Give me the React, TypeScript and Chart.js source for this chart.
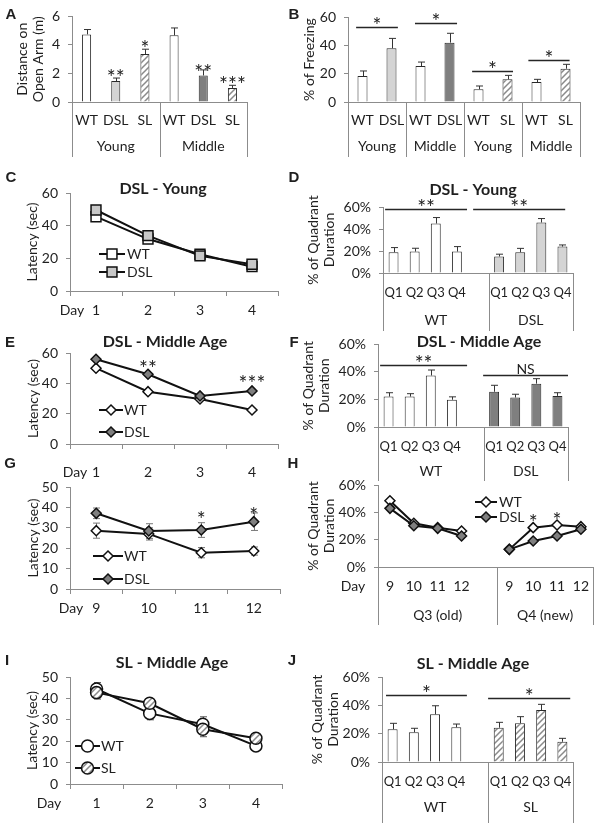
import React, { useEffect, useRef } from 'react';
import { Chart, registerables } from 'chart.js';

Chart.register(...registerables);

const FONT = 'Lato, "Open Sans", sans-serif';
const LETTER_FONT = '"Liberation Sans", Arial, sans-serif';
const INK = '#1f1f1f';
const AXIS = '#8c8c8c';
const WHITE = '#ffffff';
const LIGHT = '#d4d4d4';
const DARK = '#7f7f7f';

// ================= DATA =================
// A – distance on open arm (m)
const A_LABELS = ['WT', 'DSL', 'SL', 'WT', 'DSL', 'SL'];
const A_GROUPS = ['Young', 'Middle'];
const A_MEANS = [4.74, 1.47, 3.36, 4.67, 1.86, 0.99];
const A_SEM = [0.34, 0.21, 0.34, 0.52, 0.39, 0.18];
// B – % of freezing
const B_LABELS = ['WT', 'DSL', 'WT', 'DSL', 'WT', 'SL', 'WT', 'SL'];
const B_GROUPS = ['Young', 'Middle', 'Young', 'Middle'];
const B_MEANS = [18.3, 37.9, 25.4, 41.9, 9.0, 16.0, 14.1, 23.5];
const B_SEM = [3.6, 7.0, 2.8, 6.6, 2.3, 2.8, 1.9, 3.1];
// C – DSL young latency
const DAYS_1_4 = ['1', '2', '3', '4'];
const C_WT = [45.5, 31.8, 22.5, 14.9];
const C_DSL = [49.6, 33.9, 21.5, 16.4];
// D – DSL young quadrant
const Q_LABELS = ['Q1', 'Q2', 'Q3', 'Q4', '', 'Q1', 'Q2', 'Q3', 'Q4'];
const D_GROUPS = ['WT', 'DSL'];
const D_MEANS = [18.9, 19.5, 45.0, 19.5, null, 15.0, 18.9, 45.9, 24.0];
const D_SEM = [4.2, 3.0, 5.4, 4.5, null, 2.1, 3.5, 3.6, 1.5];
// E – DSL middle age latency
const E_WT = [50.0, 34.5, 29.7, 22.4];
const E_DSL = [55.9, 46.0, 31.7, 35.0];
// F – DSL middle age quadrant
const F_GROUPS = ['WT', 'DSL'];
const F_MEANS = [22.1, 22.1, 37.4, 19.8, null, 25.6, 21.4, 31.5, 22.6];
const F_SEM = [2.8, 2.1, 4.0, 2.1, null, 4.7, 2.4, 3.6, 2.3];
// G – reversal latency
const DAYS_9_12 = ['9', '10', '11', '12'];
const G_WT = [28.6, 27.0, 17.8, 18.6];
const G_WT_SEM = [3.7, 3.0, 2.5, 2.0];
const G_DSL = [37.1, 28.4, 28.9, 33.0];
const G_DSL_SEM = [2.6, 3.6, 3.6, 4.3];
// H – reversal quadrant
const H_LABELS = ['9', '10', '11', '12', '', '9', '10', '11', '12'];
const H_GROUPS = ['Q3 (old)', 'Q4 (new)'];
const H_WT = [48.5, 32.0, 28.8, 26.3, null, 12.9, 28.8, 30.7, 29.5];
const H_DSL = [42.9, 30.2, 28.3, 22.7, null, 12.9, 19.0, 22.7, 27.6];
// I – SL middle age latency
const I_WT = [44.4, 33.0, 27.9, 17.8];
const I_WT_SEM = [3.0, 3.0, 3.5, 1.5];
const I_SL = [42.7, 37.7, 25.6, 21.4];
const I_SL_SEM = [3.0, 2.0, 3.5, 1.5];
// J – SL middle age quadrant
const J_GROUPS = ['WT', 'SL'];
const J_MEANS = [23.1, 21.0, 33.7, 24.5, null, 24.2, 27.3, 36.7, 14.3];
const J_SEM = [4.2, 2.8, 6.0, 2.3, null, 3.8, 4.7, 4.0, 2.4];

// ================= STYLE HELPERS =================
let hatchCache: any = null;
function hatch(): any {
  if (hatchCache) return hatchCache;
  const c = document.createElement('canvas');
  c.width = 6;
  c.height = 6;
  const g = c.getContext('2d') as CanvasRenderingContext2D;
  g.fillStyle = '#ffffff';
  g.fillRect(0, 0, 6, 6);
  g.strokeStyle = '#8a8a8a';
  g.lineWidth = 1.5;
  g.beginPath();
  g.moveTo(-1, 7);
  g.lineTo(7, -1);
  g.moveTo(-1, 1);
  g.lineTo(1, -1);
  g.moveTo(5, 7);
  g.lineTo(7, 5);
  g.stroke();
  hatchCache = g.createPattern(c, 'repeat');
  return hatchCache;
}

function fillOf(k: string | null): any {
  if (k === 'w') return WHITE;
  if (k === 'l') return LIGHT;
  if (k === 'd') return DARK;
  if (k === 'h') return hatch();
  return 'transparent';
}

function barDs(values: (number | null)[], fills: (string | null)[], pct: number) {
  return {
    data: values,
    backgroundColor: fills.map(fillOf),
    borderColor: '#2a2a2a',
    borderWidth: 1,
    barPercentage: pct,
    categoryPercentage: 1,
  };
}

function lineDs(label: string, values: (number | null)[], style: string, radius: number, fill: any, order: number) {
  return {
    label,
    data: values,
    borderColor: '#111111',
    borderWidth: 2,
    pointStyle: style,
    pointRadius: radius,
    pointBackgroundColor: fill,
    pointBorderColor: '#111111',
    pointBorderWidth: 1.5,
    order,
    spanGaps: false,
    tension: 0,
    fill: false,
  };
}

type Sig = { from: number; to: number; y: number; text: string };
type Star = { idx: number; y: number; text: string };
type Err = { ds: number; err: (number | null)[]; both: boolean; color: string };
type Panel = {
  id: string;
  kind: 'bar' | 'line';
  rect: [number, number, number, number];
  area: [number, number, number, number];
  labels: string[];
  yMax: number;
  yStep: number;
  pct?: boolean;
  yTitle: string | string[];
  yTitlePad: number;
  xPad: number;
  xFont?: number;
  xTicks?: boolean;
  datasets: () => any[];
  errors?: Err[];
  errLayer?: 'before' | 'after';
  letter: [string, number, number];
  title?: [string, number, number];
  groups?: { names: string[]; bounds: number[]; y: number; bottom: number };
  sigs?: Sig[];
  stars?: Star[];
  legend?: { x0: number; x1: number; tx: number; ys: number[] };
  day?: [number, number];
};

const QUAD_TITLE = ['% of Quadrant', 'Duration'];

const PANELS: Panel[] = [
  {
    id: 'A', kind: 'bar', rect: [0, 0, 290, 165], area: [72, 15, 247, 102],
    labels: A_LABELS, yMax: 6, yStep: 1, yTitle: ['Distance on', 'Open Arm (m)'], yTitlePad: 13.6, xPad: 9.6,
    datasets: () => [barDs(A_MEANS, ['w', 'l', 'h', 'w', 'd', 'h'], 0.31)],
    errors: [{ ds: 0, err: A_SEM, both: false, color: '#333' }],
    letter: ['A', 11, 14],
    groups: { names: A_GROUPS, bounds: [-0.5, 2.5, 5.5], y: 146, bottom: 157 },
    stars: [
      { idx: 1, y: 2.07, text: '**' },
      { idx: 2, y: 4.07, text: '*' },
      { idx: 4, y: 2.41, text: '**' },
      { idx: 5, y: 1.59, text: '***' },
    ],
  },
  {
    id: 'B', kind: 'bar', rect: [286, 0, 314, 165], area: [348, 17, 580, 102],
    labels: B_LABELS, yMax: 60, yStep: 10, yTitle: '% of Freezing', yTitlePad: 14.6, xPad: 9.6,
    datasets: () => [barDs(B_MEANS, ['w', 'l', 'w', 'd', 'w', 'h', 'w', 'h'], 0.345)],
    errors: [{ ds: 0, err: B_SEM, both: false, color: '#333' }],
    letter: ['B', 294, 14],
    groups: { names: B_GROUPS, bounds: [-0.5, 1.5, 3.5, 5.5, 7.5], y: 146, bottom: 157 },
    sigs: [
      { from: -0.22, to: 1.22, y: 53, text: '*' },
      { from: 1.81, to: 3.26, y: 55.5, text: '*' },
      { from: 3.78, to: 5.19, y: 22, text: '*' },
      { from: 5.72, to: 7.14, y: 30, text: '*' },
    ],
  },
  {
    id: 'C', kind: 'line', rect: [0, 165, 290, 160], area: [70, 193, 278, 291],
    labels: DAYS_1_4, yMax: 60, yStep: 10, yTitle: 'Latency (sec)', yTitlePad: 23.6, xPad: 5.6, xTicks: true,
    datasets: () => [lineDs('WT', C_WT, 'rect', 7, WHITE, 2), lineDs('DSL', C_DSL, 'rect', 7, '#c8c8c8', 1)],
    letter: ['C', 11, 177], title: ['DSL - Young', 163, 189],
    legend: { x0: 99, x1: 125, tx: 127, ys: [254, 272] }, day: [72, 310],
  },
  {
    id: 'D', kind: 'bar', rect: [286, 165, 314, 170], area: [383, 207, 573, 273],
    labels: Q_LABELS, yMax: 60, yStep: 20, pct: true, yTitle: QUAD_TITLE, yTitlePad: 18.6, xPad: 12.2, xFont: 13,
    datasets: () => [barDs(D_MEANS, ['w', 'w', 'w', 'w', null, 'l', 'l', 'l', 'l'], 0.47)],
    errors: [{ ds: 0, err: D_SEM, both: false, color: '#333' }],
    letter: ['D', 294, 177], title: ['DSL - Young', 473, 190],
    groups: { names: D_GROUPS, bounds: [-0.5, 4.5, 8.5], y: 320, bottom: 331 },
    sigs: [
      { from: -0.4, to: 3.48, y: 58, text: '**' },
      { from: 3.77, to: 8.13, y: 58, text: '**' },
    ],
  },
  {
    id: 'E', kind: 'line', rect: [0, 328, 290, 154], area: [70, 353, 278, 444],
    labels: DAYS_1_4, yMax: 60, yStep: 10, yTitle: 'Latency (sec)', yTitlePad: 24.6, xPad: 14.6, xTicks: true,
    datasets: () => [lineDs('WT', E_WT, 'rectRot', 5, WHITE, 2), lineDs('DSL', E_DSL, 'rectRot', 5, DARK, 1)],
    letter: ['E', 10, 342], title: ['DSL - Middle Age', 165, 342],
    stars: [
      { idx: 1, y: 53.4, text: '**' },
      { idx: 3, y: 42.9, text: '***' },
    ],
    legend: { x0: 99, x1: 123, tx: 124, ys: [410, 432] }, day: [75, 472],
  },
  {
    id: 'F', kind: 'bar', rect: [286, 328, 314, 155], area: [378, 342, 568, 427],
    labels: Q_LABELS, yMax: 60, yStep: 20, pct: true, yTitle: QUAD_TITLE, yTitlePad: 13.6, xPad: 12.2, xFont: 13,
    datasets: () => [barDs(F_MEANS, ['w', 'w', 'w', 'w', null, 'd', 'd', 'd', 'd'], 0.47)],
    errors: [{ ds: 0, err: F_SEM, both: false, color: '#333' }],
    letter: ['F', 294, 342], title: ['DSL - Middle Age', 479, 342],
    groups: { names: F_GROUPS, bounds: [-0.5, 4.5, 8.5], y: 471, bottom: 481 },
    sigs: [
      { from: -0.4, to: 3.72, y: 45, text: '**' },
      { from: 4.48, to: 8.5, y: 38, text: 'NS' },
    ],
  },
  {
    id: 'G', kind: 'line', rect: [0, 455, 290, 165], area: [70, 487, 280, 589],
    labels: DAYS_9_12, yMax: 50, yStep: 10, yTitle: 'Latency (sec)', yTitlePad: 24.6, xPad: 5.6, xTicks: true,
    datasets: () => [lineDs('WT', G_WT, 'rectRot', 5, WHITE, 2), lineDs('DSL', G_DSL, 'rectRot', 5, DARK, 1)],
    errors: [
      { ds: 0, err: G_WT_SEM, both: true, color: '#777' },
      { ds: 1, err: G_DSL_SEM, both: true, color: '#777' },
    ],
    errLayer: 'before',
    letter: ['G', 10, 463],
    stars: [
      { idx: 2, y: 36.3, text: '*' },
      { idx: 3, y: 38.7, text: '*' },
    ],
    legend: { x0: 93, x1: 123, tx: 124, ys: [556, 579] }, day: [71, 608],
  },
  {
    id: 'H', kind: 'line', rect: [286, 455, 314, 172], area: [378, 485, 598, 567],
    labels: H_LABELS, yMax: 60, yStep: 20, pct: true, yTitle: QUAD_TITLE, yTitlePad: 18.6, xPad: 10.6,
    datasets: () => [lineDs('WT', H_WT, 'rectRot', 5, WHITE, 2), lineDs('DSL', H_DSL, 'rectRot', 5, DARK, 1)],
    letter: ['H', 293, 463],
    groups: { names: H_GROUPS, bounds: [-0.5, 4.5, 8.5], y: 615, bottom: 625 },
    stars: [
      { idx: 6, y: 35.9, text: '*' },
      { idx: 7, y: 38.0, text: '*' },
    ],
    legend: { x0: 475, x1: 497, tx: 499, ys: [502, 517] }, day: [353, 586],
  },
  {
    id: 'I', kind: 'line', rect: [0, 640, 290, 183], area: [70, 677, 286, 784],
    labels: DAYS_1_4, yMax: 50, yStep: 10, yTitle: 'Latency (sec)', yTitlePad: 23.6, xPad: 5.6, xTicks: true,
    datasets: () => [lineDs('WT', I_WT, 'circle', 6, WHITE, 2), lineDs('SL', I_SL, 'circle', 6, hatch(), 1)],
    errors: [
      { ds: 0, err: I_WT_SEM, both: true, color: '#555' },
      { ds: 1, err: I_SL_SEM, both: true, color: '#555' },
    ],
    errLayer: 'before',
    letter: ['I', 7, 660], title: ['SL - Middle Age', 172, 663],
    legend: { x0: 75, x1: 100, tx: 101, ys: [746, 768] }, day: [49, 803],
  },
  {
    id: 'J', kind: 'bar', rect: [286, 640, 314, 183], area: [382, 677, 573, 762],
    labels: Q_LABELS, yMax: 60, yStep: 20, pct: true, yTitle: QUAD_TITLE, yTitlePad: 22.6, xPad: 12.2, xFont: 13,
    datasets: () => [barDs(J_MEANS, ['w', 'w', 'w', 'w', null, 'h', 'h', 'h', 'h'], 0.47)],
    errors: [{ ds: 0, err: J_SEM, both: false, color: '#333' }],
    letter: ['J', 292, 660], title: ['SL - Middle Age', 473, 664],
    groups: { names: J_GROUPS, bounds: [-0.5, 4.5, 8.5], y: 807, bottom: 823 },
    sigs: [
      { from: -0.31, to: 3.5, y: 47.3, text: '*' },
      { from: 4.5, to: 8.37, y: 45.2, text: '*' },
    ],
  },
];

// ================= DRAW HELPERS =================
function inkText(ctx: CanvasRenderingContext2D, text: string, x: number, y: number) {
  const prev = ctx.textBaseline;
  ctx.textBaseline = 'alphabetic';
  const m = ctx.measureText(text);
  const a = m.actualBoundingBoxAscent || 0;
  const d = m.actualBoundingBoxDescent || 0;
  ctx.fillText(text, x, y + (a - d) / 2);
  ctx.textBaseline = prev;
}

function markFont(text: string) {
  return text === 'NS' ? `14px ${FONT}` : `21px ${FONT}`;
}

function drawMarker(ctx: CanvasRenderingContext2D, style: string, x: number, y: number, r: number, fill: any) {
  ctx.beginPath();
  if (style === 'rect') {
    const s = r * Math.SQRT1_2;
    ctx.rect(x - s, y - s, 2 * s, 2 * s);
  } else if (style === 'rectRot') {
    ctx.moveTo(x, y - r);
    ctx.lineTo(x + r, y);
    ctx.lineTo(x, y + r);
    ctx.lineTo(x - r, y);
    ctx.closePath();
  } else {
    ctx.arc(x, y, r, 0, Math.PI * 2);
  }
  ctx.fillStyle = fill;
  ctx.fill();
  ctx.lineWidth = 1.5;
  ctx.strokeStyle = '#111111';
  ctx.stroke();
}

function drawErrors(chart: any, p: Panel) {
  if (!p.errors) return;
  const ctx = chart.ctx as CanvasRenderingContext2D;
  const ys = chart.scales.y;
  p.errors.forEach((e) => {
    const meta = chart.getDatasetMeta(e.ds);
    const data = chart.data.datasets[e.ds].data;
    ctx.save();
    ctx.strokeStyle = e.color;
    ctx.lineWidth = 1;
    meta.data.forEach((el: any, i: number) => {
      const v = data[i];
      const d = e.err[i];
      if (v == null || d == null) return;
      const x = Math.round(el.x) + 0.5;
      const yTop = ys.getPixelForValue(v + d);
      const yBot = e.both ? ys.getPixelForValue(v - d) : ys.getPixelForValue(v);
      ctx.beginPath();
      ctx.moveTo(x, yTop);
      ctx.lineTo(x, yBot);
      ctx.moveTo(x - 3.5, yTop);
      ctx.lineTo(x + 3.5, yTop);
      if (e.both) {
        ctx.moveTo(x - 3.5, yBot);
        ctx.lineTo(x + 3.5, yBot);
      }
      ctx.stroke();
    });
    ctx.restore();
  });
}

function drawAnnotations(chart: any, p: Panel) {
  const ctx = chart.ctx as CanvasRenderingContext2D;
  const ox = p.rect[0];
  const oy = p.rect[1];
  const xs = chart.scales.x;
  const ys = chart.scales.y;
  const ca = chart.chartArea;
  ctx.save();
  ctx.fillStyle = INK;
  ctx.textAlign = 'center';
  ctx.textBaseline = 'middle';

  ctx.font = `bold 15px ${LETTER_FONT}`;
  inkText(ctx, p.letter[0], p.letter[1] - ox, p.letter[2] - oy);

  if (p.title) {
    ctx.font = `bold 16px ${FONT}`;
    ctx.fillText(p.title[0], p.title[1] - ox, p.title[2] - oy);
  }

  if (p.groups) {
    const g = p.groups;
    ctx.strokeStyle = AXIS;
    ctx.lineWidth = 1;
    ctx.beginPath();
    g.bounds.forEach((b) => {
      const x = Math.round(xs.getPixelForValue(b)) + 0.5;
      ctx.moveTo(x, ca.bottom);
      ctx.lineTo(x, g.bottom - oy);
    });
    ctx.stroke();
    ctx.font = `14px ${FONT}`;
    g.names.forEach((n, i) => {
      const x = (xs.getPixelForValue(g.bounds[i]) + xs.getPixelForValue(g.bounds[i + 1])) / 2;
      ctx.fillText(n, x, g.y - oy);
    });
  }

  if (p.sigs) {
    p.sigs.forEach((s) => {
      const x0 = xs.getPixelForValue(s.from);
      const x1 = xs.getPixelForValue(s.to);
      const y = Math.round(ys.getPixelForValue(s.y)) + 0.5;
      ctx.strokeStyle = '#262626';
      ctx.lineWidth = 1.6;
      ctx.beginPath();
      ctx.moveTo(x0, y);
      ctx.lineTo(x1, y);
      ctx.stroke();
      ctx.font = markFont(s.text);
      inkText(ctx, s.text, (x0 + x1) / 2, y - 7);
    });
  }

  if (p.stars) {
    p.stars.forEach((s) => {
      ctx.font = markFont(s.text);
      inkText(ctx, s.text, xs.getPixelForValue(s.idx), ys.getPixelForValue(s.y));
    });
  }

  if (p.legend) {
    const lg = p.legend;
    chart.data.datasets.forEach((ds: any, i: number) => {
      const y = lg.ys[i] - oy;
      const x0 = lg.x0 - ox;
      const x1 = lg.x1 - ox;
      ctx.strokeStyle = '#111111';
      ctx.lineWidth = 2;
      ctx.beginPath();
      ctx.moveTo(x0, y);
      ctx.lineTo(x1, y);
      ctx.stroke();
      drawMarker(ctx, ds.pointStyle, (x0 + x1) / 2, y, ds.pointRadius, ds.pointBackgroundColor);
      ctx.fillStyle = INK;
      ctx.textAlign = 'left';
      ctx.font = `14px ${FONT}`;
      ctx.fillText(ds.label, lg.tx - ox, y);
    });
  }

  if (p.day) {
    ctx.fillStyle = INK;
    ctx.textAlign = 'center';
    ctx.font = `14px ${FONT}`;
    ctx.fillText('Day', p.day[0] - ox, p.day[1] - oy);
  }
  ctx.restore();
}

function buildConfig(p: Panel): any {
  const [rx, ry, rw, rh] = p.rect;
  const [L, T, R, B] = p.area;
  const tickFont = { family: FONT, size: 14 };
  return {
    type: p.kind,
    data: { labels: p.labels, datasets: p.datasets() },
    options: {
      animation: false,
      responsive: false,
      maintainAspectRatio: false,
      devicePixelRatio: 1,
      events: [],
      layout: { padding: { left: 0, top: T - ry, right: rx + rw - R, bottom: 0 } },
      plugins: { legend: { display: false }, tooltip: { enabled: false }, title: { display: false } },
      scales: {
        x: {
          offset: true,
          grid: p.xTicks
            ? { display: true, offset: true, drawOnChartArea: false, drawTicks: true, tickLength: 5, color: AXIS }
            : { display: false, drawTicks: false },
          border: { display: true, color: AXIS, width: 1 },
          ticks: {
            font: { family: FONT, size: p.xFont || 14 },
            color: INK,
            padding: p.xPad,
            autoSkip: false,
            maxRotation: 0,
            minRotation: 0,
          },
          afterFit: (s: any) => {
            s.height = ry + rh - B;
          },
        },
        y: {
          min: 0,
          max: p.yMax,
          grid: { display: true, drawOnChartArea: false, drawTicks: true, tickLength: 4, color: AXIS },
          border: { display: true, color: AXIS, width: 1 },
          ticks: {
            stepSize: p.yStep,
            font: tickFont,
            color: INK,
            padding: 8,
            callback: (v: any) => (p.pct ? v + '%' : String(v)),
          },
          title: {
            display: true,
            text: p.yTitle,
            font: { family: FONT, size: 14 },
            color: INK,
            padding: { top: p.yTitlePad, bottom: 0 },
          },
          afterFit: (s: any) => {
            s.width = L - rx;
          },
        },
      },
    },
    plugins: [
      {
        id: 'annot' + p.id,
        beforeDatasetsDraw: (chart: any) => {
          if (p.errLayer === 'before') drawErrors(chart, p);
        },
        afterDatasetsDraw: (chart: any) => {
          if (p.errLayer !== 'before') drawErrors(chart, p);
        },
        afterDraw: (chart: any) => drawAnnotations(chart, p),
      },
    ],
  };
}

function PanelChart({ p }: { p: Panel }) {
  const ref = useRef<HTMLCanvasElement>(null);
  useEffect(() => {
    if (!ref.current) return;
    const chart = new Chart(ref.current, buildConfig(p));
    return () => chart.destroy();
  }, [p]);
  const [x, y, w, h] = p.rect;
  return (
    <canvas
      ref={ref}
      width={w}
      height={h}
      style={{ position: 'absolute', left: x, top: y, width: w, height: h }}
    />
  );
}

export default function App() {
  return (
    <div
      style={{
        position: 'absolute',
        left: 0,
        top: 0,
        width: 600,
        height: 823,
        background: '#ffffff',
        overflow: 'hidden',
      }}
    >
      {PANELS.map((p) => (
        <PanelChart key={p.id} p={p} />
      ))}
    </div>
  );
}
